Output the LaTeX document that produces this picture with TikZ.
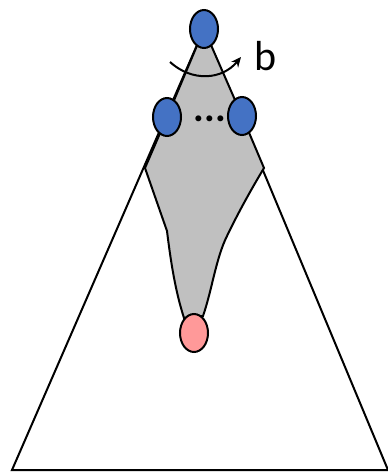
\documentclass[tikz,border=0pt]{standalone}
\usepackage{fontspec}
\setmainfont{Carlito}
\usetikzlibrary{shapes.geometric,arrows.meta}
\begin{document}
\begin{tikzpicture}[x=1pt,y=-1pt,
  vert/.style={ellipse,draw=black,line width=2pt,minimum width=28pt,minimum height=38pt,inner sep=0pt},
  bluev/.style={vert,fill={rgb,255:red,68;green,114;blue,196}},
  pinkv/.style={vert,fill={rgb,255:red,255;green,153;blue,153}},
  edge/.style={line width=2pt,black}]
\useasboundingbox (0,0) rectangle (388,472);
% vertices positions
\coordinate (tc) at (204,29);
\coordinate (lc) at (167,117);
\coordinate (rc) at (242,116);
\coordinate (bc) at (194,333);
\coordinate (bl) at (12,470);
\coordinate (br) at (388,470);
% big triangle
\draw[edge] (tc) -- (bl) -- (br) -- cycle;
% gray region
\draw[edge,fill={rgb,255:red,192;green,192;blue,192}]
  (tc) -- (lc) -- (145,168) -- (167,231)
  .. controls (172,272) and (177,296) .. (184,318)
  -- (203,316)
  .. controls (212,290) and (216,258) .. (227,236)
  .. controls (238,213) and (252,188) .. (264,168)
  -- (rc) -- cycle;
% nodes
\node[bluev] (top) at (tc) {};
\node[bluev] (L) at (lc) {};
\node[bluev] (R) at (rc) {};
\node[pinkv] (bot) at (bc) {};
\node (dots) at (210,119) {\fontsize{40}{40}\selectfont\bfseries ...};
% rotation arrow
\coordinate (as) at (170,62);
\coordinate (ae) at (241,57);
\draw[line width=2pt,-{Stealth[length=10pt,width=9pt]}] (as) .. controls (192,82) and (222,80) .. (ae);
\node[anchor=base] (b) at (266,70) {\fontsize{42}{42}\selectfont b};
\end{tikzpicture}
\end{document}
